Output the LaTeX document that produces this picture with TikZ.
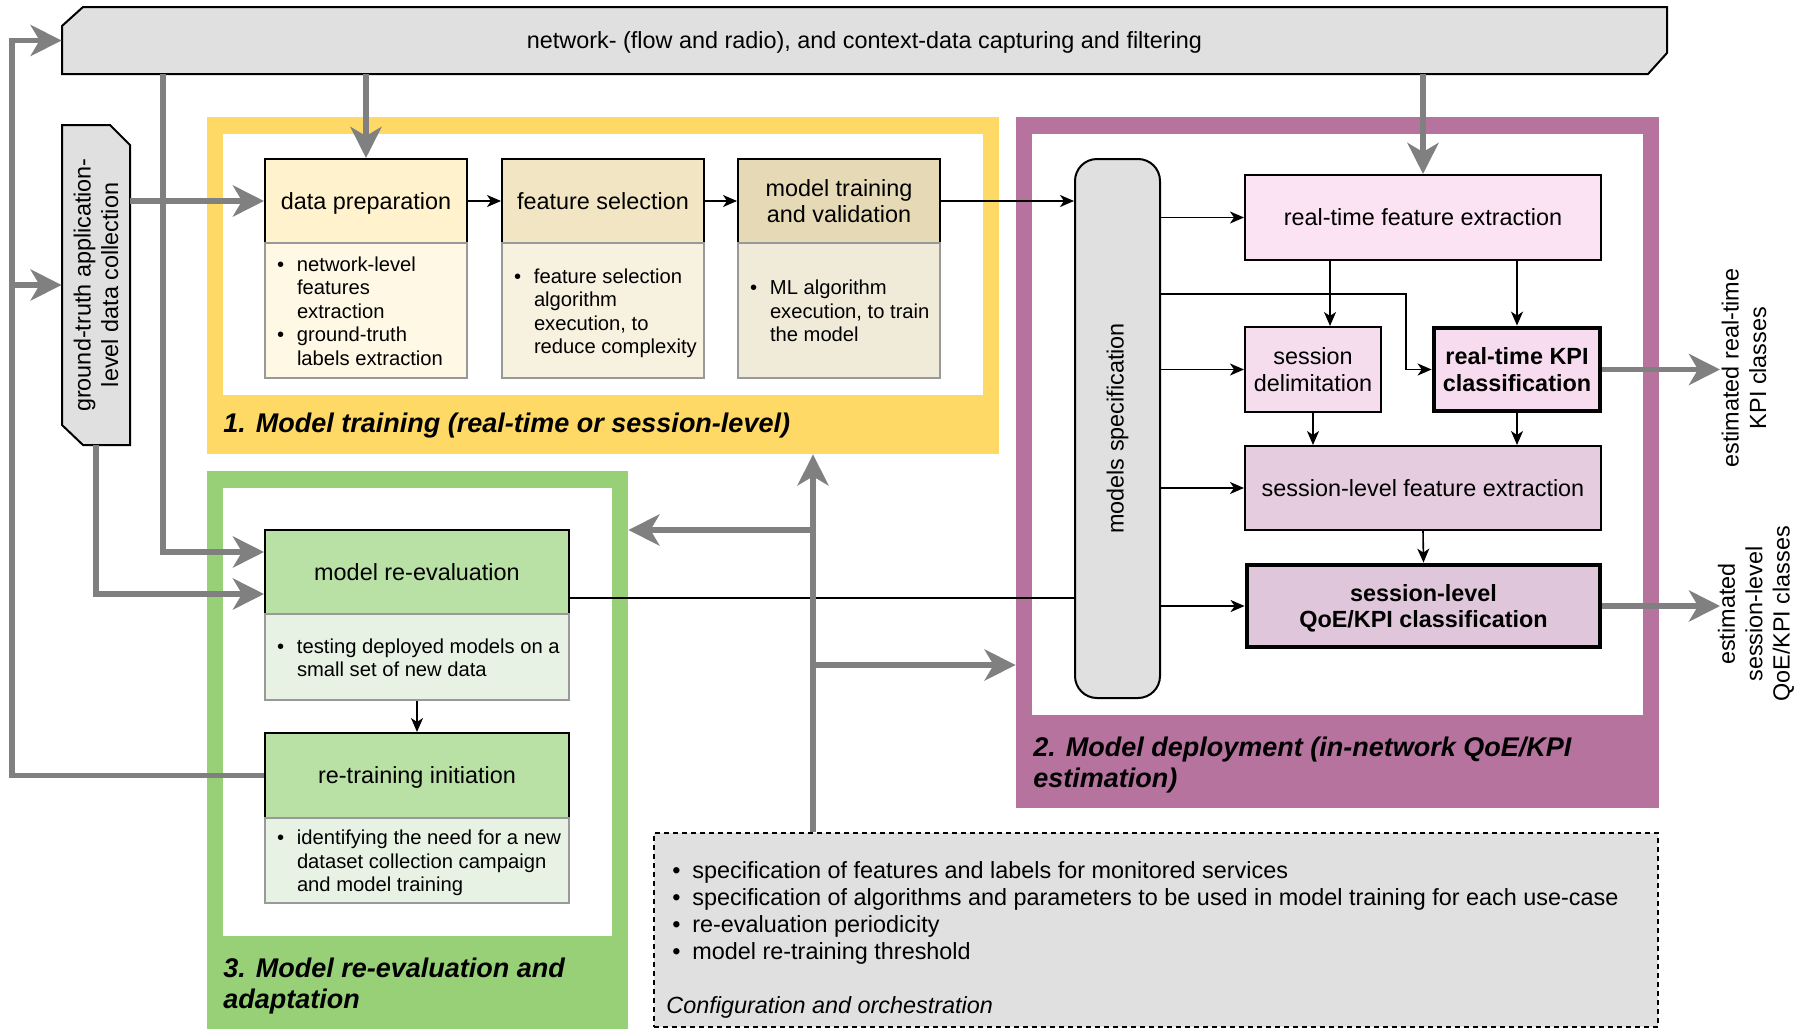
\documentclass[tikz,border=0pt]{standalone}
\usepackage{fontspec}
\setmainfont{Liberation Sans}
\usetikzlibrary{arrows.meta,fit}

\definecolor{bannerfill}{HTML}{E0E0E0}
\definecolor{yellowC}{HTML}{FFD966}
\definecolor{purpleC}{HTML}{B5739D}
\definecolor{greenC}{HTML}{97D077}
\definecolor{dpT}{HTML}{FFF2CC}
\definecolor{dpB}{HTML}{FFF8E4}
\definecolor{fsT}{HTML}{F2E5C3}
\definecolor{fsB}{HTML}{F7F1E0}
\definecolor{mtT}{HTML}{E6D9B6}
\definecolor{mtB}{HTML}{F0EAD9}
\definecolor{grT}{HTML}{B9E0A5}
\definecolor{grB}{HTML}{E8F2E4}
\definecolor{pkA}{HTML}{FBE3F3}
\definecolor{pkB}{HTML}{F5DDEE}
\definecolor{pkC}{HTML}{F7DCEF}
\definecolor{pkD}{HTML}{E5CCDF}
\definecolor{pkE}{HTML}{DFC6DA}
\definecolor{arrowgray}{HTML}{808080}
\definecolor{bordergray}{HTML}{999999}

\newcommand{\myTitleFont}{\fontsize{11.7pt}{13.2pt}\selectfont}
\newcommand{\myBulFont}{\fontsize{10.1pt}{11.75pt}\selectfont}
\newcommand{\mySecFont}{\fontsize{13.5pt}{15.6pt}\selectfont\bfseries\itshape}
\newcommand{\myCfgFont}{\fontsize{11.7pt}{13.6pt}\selectfont}
\newcommand{\myRotFont}{\fontsize{11.7pt}{13.7pt}\selectfont}
\newcommand{\dn}[1]{\raisebox{-1.6pt}[\height][\depth]{\begin{tabular}{@{}c@{}}#1\end{tabular}}}
\newcommand{\blist}[2]{\raisebox{-1.6pt}[\height][\depth]{\parbox{#1}{\hspace*{6pt}\begin{tabular}{@{}p{10pt}@{}l@{}}#2\end{tabular}}}}

\tikzset{
  tbox/.style={draw=black, line width=1pt, fill=#1, inner sep=0pt, align=center, font=\myTitleFont},
  bbox/.style={draw=bordergray, line width=1pt, fill=#1, inner sep=0pt, font=\myBulFont},
  kbox/.style={draw=black, line width=2.4pt, fill=#1, inner sep=0pt, align=center, font=\myTitleFont\bfseries},
  framebox/.style={fill=#1, draw=none, inner sep=0pt},
  innerbox/.style={fill=white, draw=none, inner sep=0pt},
  sz/.style 2 args={minimum width=#1, minimum height=#2},
  garrow/.style={draw=arrowgray, line width=2.8pt, -{Stealth[length=15.5pt,width=15.5pt,inset=4.5pt]}},
  tarrow/.style={draw=black, line width=0.8pt, -{Stealth[length=7pt,width=6pt,inset=2pt]}},
  tline/.style={draw=black, line width=0.8pt},
  seclabel/.style={font=\mySecFont, inner sep=0pt, align=left},
  rlabel/.style={font=\myRotFont, rotate=90, align=center, inner sep=0pt},
}

\begin{document}
\begin{tikzpicture}[x=0.5pt, y=-0.5pt]
\useasboundingbox (0,0) rectangle (1809,1033);
\fill[white] (0,0) rectangle (1809,1033);

% frames
\node[framebox=yellowC, fit={(207,117)(999,454)}] (yellowF) {};
\node[innerbox, fit={(223,134)(983,395)}] (yellowI) {};
\node[framebox=purpleC, fit={(1016,117)(1659,808)}] (purpleF) {};
\node[innerbox, fit={(1032,134)(1643,715)}] (purpleI) {};
\node[framebox=greenC, fit={(207,471)(628,1029)}] (greenF) {};
\node[innerbox, fit={(223,488)(612,936)}] (greenI) {};

\node[seclabel, anchor=west] (l1) at (223,426) {1. Model training (real-time or session-level)};
\node[seclabel, anchor=west] (l2) at (1033,765) {2. Model deployment (in-network QoE/KPI\\estimation)};
\node[seclabel, anchor=west] (l3) at (223,986) {3. Model re-evaluation and\\adaptation};

% banner
\draw[line width=1pt, fill=bannerfill] (83,7) -- (1667,7) -- (1667,53) -- (1648,74) -- (62,74) -- (62,26) -- cycle;
\node[sz={802.5pt}{33.5pt}, inner sep=0pt, font=\myTitleFont] (banner) at (864.5,40.5) {\dn{network- (flow and radio), and context-data capturing and filtering}};

% ground truth box
\draw[line width=1pt, fill=bannerfill] (62,125) -- (110,125) -- (130,145) -- (130,445) -- (83,445) -- (62,425) -- cycle;
\node[sz={34pt}{160pt}, inner sep=0pt] (gt) at (96,285) {};
\node[rlabel] (gtlabel) at (gt.center) {ground-truth application-\\level data collection};

% training boxes
\node[tbox=dpT, sz={101pt}{42pt}] (dp) at (366,201) {\dn{data preparation}};
\node[bbox=dpB, sz={101pt}{67.5pt}] (dpb) at (366,310.5) {\blist{101pt}{\textbullet & network-level\\ & features\\ & extraction\\ \textbullet & ground-truth\\ & labels extraction}};
\node[tbox=fsT, sz={101pt}{42pt}] (fs) at (603,201) {\dn{feature selection}};
\node[bbox=fsB, sz={101pt}{67.5pt}] (fsb) at (603,310.5) {\blist{101pt}{\textbullet & feature selection\\ & algorithm\\ & execution, to\\ & reduce complexity}};
\node[tbox=mtT, sz={101pt}{42pt}] (mt) at (839,201) {\dn{model training\\and validation}};
\node[bbox=mtB, sz={101pt}{67.5pt}] (mtb) at (839,310.5) {\blist{101pt}{\textbullet & ML algorithm\\ & execution, to train\\ & the model}};

% re-evaluation boxes
\node[tbox=grT, sz={152pt}{42pt}] (mre) at (417,572) {\dn{model re-evaluation}};
\node[bbox=grB, sz={152pt}{43pt}] (mreb) at (417,657) {\blist{152pt}{\textbullet & testing deployed models on a\\ & small set of new data}};
\node[tbox=grT, sz={152pt}{42.5pt}] (rt) at (417,775.5) {\dn{re-training initiation}};
\node[bbox=grB, sz={152pt}{42.5pt}] (rtb) at (417,860.5) {\blist{152pt}{\textbullet & identifying the need for a new\\ & dataset collection campaign\\ & and model training}};

% deployment
\node[draw=black, line width=1pt, fill=bannerfill, rounded corners=11pt, sz={42.5pt}{269.5pt}, inner sep=0pt] (ms) at (1117.5,428.5) {};
\node[rlabel] (mslabel) at (ms.center) {models specification};
\node[tbox=pkA, sz={178pt}{42.5pt}] (rtfe) at (1423,217.5) {\dn{real-time feature extraction}};
\node[tbox=pkB, sz={68pt}{42.5pt}] (sd) at (1313,369.5) {\dn{session\\delimitation}};
\node[kbox=pkC, sz={83pt}{41.5pt}] (kpi) at (1517,369.5) {\dn{real-time KPI\\classification}};
\node[tbox=pkD, sz={178pt}{42pt}] (slfe) at (1423,488) {\dn{session-level feature extraction}};
\node[kbox=pkE, sz={176.5pt}{41pt}] (slq) at (1423.5,606) {\dn{session-level\\QoE/KPI classification}};

% outputs
\node[rlabel] (out1) at (1744,368) {estimated real-time\\KPI classes};
\node[rlabel] (out2) at (1756,614) {estimated\\session-level\\QoE/KPI classes};

% configuration
\node[draw=black, line width=0.8pt, dash pattern=on 2.5pt off 2pt, fill=bannerfill, sz={502pt}{97pt}, inner sep=0pt] (cfg) at (1156,930) {};
\node[anchor=west, font=\myCfgFont, inner sep=0pt] (cfgitems) at (672,913.5) {\begin{tabular}{@{}p{10pt}@{}l@{}}
\textbullet & specification of features and labels for monitored services\\
\textbullet & specification of algorithms and parameters to be used in model training for each use-case\\
\textbullet & re-evaluation periodicity\\
\textbullet & model re-training threshold
\end{tabular}};
\node[anchor=west, font=\myCfgFont\itshape, inner sep=0pt] (cfglabel) at (666,1007) {Configuration and orchestration};

% thin connectors
\draw[tarrow] (dp.east) -- (fs.west);
\draw[tarrow] (fs.east) -- (mt.west);
\draw[tarrow] (mt.east) -- (mt.east -| ms.west);
\draw[tarrow] (ms.east |- rtfe.west) -- (rtfe.west);
\coordinate (kbend) at (1406,294);
\draw[tarrow] (ms.east |- kbend) -- (kbend) |- (kpi.west);
\draw[tarrow] (ms.east |- sd.west) -- (sd.west);
\draw[tarrow] (ms.east |- slfe.west) -- (slfe.west);
\draw[tarrow] (ms.east |- slq.west) -- (slq.west);
\coordinate (sdx) at (1330,0);
\draw[tarrow] (rtfe.south -| sdx) -- (sd.north -| sdx);
\draw[tarrow] (rtfe.south -| kpi.north) -- (kpi.north);
\draw[tarrow] (sd.south) -- (sd.south |- slfe.north);
\draw[tarrow] (kpi.south) -- (kpi.south |- slfe.north);
\draw[tarrow] (slfe.south) -- (slq.north);
\draw[tline] ([yshift=-13pt]mre.east) -- ([yshift=-13pt]mre.east -| ms.west);
\draw[tarrow] (mreb.south) -- (rt.north);

% gray connectors
\draw[garrow] (banner.south -| dp.north) -- (dp.north);
\draw[garrow] (banner.south -| rtfe.north) -- (rtfe.north);
\coordinate (colA) at (163,0);
\draw[garrow] (banner.south -| colA) |- ([yshift=10pt]mre.west);
\draw[garrow] (gt.east |- dp.west) -- (dp.west);
\draw[garrow] (gt.south) |- ([yshift=-11pt]mre.west);
\coordinate (loopx) at (12,285);
\draw[garrow] (rt.west) -| (loopx) |- (banner.west);
\draw[garrow] (loopx) -- (gt.west);
\coordinate (cfgx) at (813,0);
\draw[garrow] (cfg.north -| cfgx) -- (yellowF.south -| cfgx);
\coordinate (brA) at (813,530);
\coordinate (brB) at (813,665);
\draw[garrow] (brA) -- (brA -| greenF.east);
\draw[garrow] (brB) -- (brB -| purpleF.west);
\coordinate (outx) at (1720,0);
\draw[garrow] (kpi.east) -- (kpi.east -| outx);
\draw[garrow] (slq.east) -- (slq.east -| outx);
\end{tikzpicture}
\end{document}
